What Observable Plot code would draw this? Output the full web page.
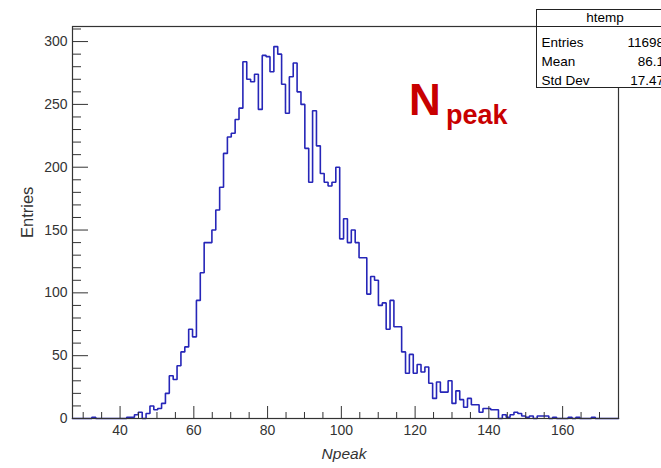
<!DOCTYPE html>
<html>
<head>
<meta charset="utf-8">
<script src="https://cdn.jsdelivr.net/npm/d3@7"></script>
<script src="https://cdn.jsdelivr.net/npm/@observablehq/plot@0.6"></script>
<style>
  html, body { margin: 0; padding: 0; background: #fff; }
  #chart svg { display: block; }
</style>
</head>
<body>
<div id="chart"></div>
<script>
// ---- data ----
const histName = "htemp";
const xTitle = "Npeak";
const yTitle = "Entries";
const binStart = 27.1;
const binWidth = 1.05;
const counts = [
  0, 0, 0, 0, 0, 1, 0, 0, 0, 0,
  0, 0, 0, 0, 1, 1, 3, 5, 0, 4,
  10, 7, 8, 12, 20, 34, 31, 42, 53, 57,
  71, 65, 94, 116, 140, 140, 150, 166, 184, 211,
  224, 227, 238, 247, 284, 270, 268, 274, 246, 289,
  288, 276, 296, 290, 266, 243, 272, 283, 260, 250,
  215, 188, 245, 217, 195, 188, 185, 188, 200, 143,
  159, 140, 150, 140, 128, 128, 99, 113, 110, 90,
  92, 71, 94, 73, 73, 53, 36, 51, 36, 43,
  37, 41, 28, 16, 29, 21, 21, 30, 12, 22,
  15, 9, 16, 11, 11, 5, 8, 8, 7, 7,
  0, 3, 1, 3, 5, 4, 2, 1, 2, 0,
  2, 2, 2, 0, 1, 0, 0, 0, 1, 0,
  1, 0, 0, 0, 1, 0, 0, 0, 0, 0,
  0
];
const yMax = 312;
const xMajorTicks = [40, 60, 80, 100, 120, 140, 160];
const xMinorTicks = [30, 35, 45, 50, 55, 65, 70, 75, 85, 90, 95, 105, 110, 115, 125, 130, 135, 145, 150, 155, 165, 170];
const yMajorTicks = [0, 50, 100, 150, 200, 250, 300];
const yMinorTicks = [10, 20, 30, 40, 60, 70, 80, 90, 110, 120, 130, 140, 160, 170, 180, 190, 210, 220, 230, 240, 260, 270, 280, 290, 310];
const statLabels = ["Entries", "Mean", "Std Dev"];
const statValues = ["11698", "86.1", "17.47"];
const annotMain = "N";
const annotSub = "peak";

// ---- build step outline from bins ----
const histPoints = counts.flatMap((c, i) => [
  {x: binStart + i * binWidth, y: c},
  {x: binStart + (i + 1) * binWidth, y: c}
]);

const axisColor = "#333";
const font = '"Liberation Sans", Arial, Helvetica, sans-serif';

const chart = Plot.plot({
  width: 661,
  height: 468,
  marginLeft: 72,
  marginRight: 43,
  marginTop: 26,
  marginBottom: 50,
  x: {domain: [binStart, binStart + counts.length * binWidth], label: null},
  y: {domain: [0, yMax], label: null},
  style: {fontFamily: font, fontSize: "14px", color: axisColor, background: "#fff", overflow: "visible"},
  marks: [
    Plot.line(histPoints, {x: "x", y: "y", stroke: "#2626b8", strokeWidth: 1.6, strokeLinejoin: "miter"}),
    Plot.frame({stroke: axisColor, strokeWidth: 1.2}),
    Plot.axisX({ticks: xMajorTicks, tickSize: -12, tickFormat: () => "", color: axisColor, label: null}),
    Plot.axisX({ticks: xMinorTicks, tickSize: -6, tickFormat: () => "", color: axisColor, label: null}),
    Plot.axisX({ticks: xMajorTicks, tickSize: 0, tickPadding: 7, color: axisColor, fontSize: 14, label: null}),
    Plot.axisY({ticks: yMajorTicks, tickSize: -16, tickFormat: () => "", color: axisColor, label: null}),
    Plot.axisY({ticks: yMinorTicks, tickSize: -9, tickFormat: () => "", color: axisColor, label: null}),
    Plot.axisY({ticks: yMajorTicks, tickSize: 0, tickPadding: 5, color: axisColor, fontSize: 14, label: null}),
    Plot.text([xTitle], {text: d => d, frameAnchor: "bottom", dx: -1.5, dy: 40, fontStyle: "italic", fontSize: 15.5, fill: "#333"}),
    Plot.text([yTitle], {text: d => d, frameAnchor: "left", rotate: -90, dx: -45, dy: 15.5, fontSize: 16.5, fill: "#333"})
  ]
});

document.getElementById("chart").appendChild(chart);

// ---- stat box (ROOT style) ----
const svg = d3.select(chart);
const box = svg.append("g").attr("font-family", font).attr("font-size", 13.5).attr("fill", "#000");
box.append("rect").attr("x", 536.5).attr("y", 9.5).attr("width", 140).attr("height", 78)
  .attr("fill", "#fff").attr("stroke", "#222").attr("stroke-width", 1);
box.append("line").attr("x1", 536.5).attr("x2", 676.5).attr("y1", 26.5).attr("y2", 26.5)
  .attr("stroke", "#222").attr("stroke-width", 1);
box.append("text").attr("x", 605).attr("y", 22).attr("text-anchor", "middle").text(histName);
const rowY = [46.5, 66, 84.5];
statLabels.forEach((l, i) => {
  box.append("text").attr("x", 541.5).attr("y", rowY[i]).attr("text-anchor", "start").text(l);
  box.append("text").attr("x", 664).attr("y", rowY[i]).attr("text-anchor", "end").text(statValues[i]);
});

// ---- red annotation ----
const ann = svg.append("text").attr("font-family", font).attr("fill", "#c80000")
  .attr("font-weight", "bold").attr("text-anchor", "start");
ann.append("tspan").attr("x", 409).attr("y", 115).attr("font-size", 44).text(annotMain);
ann.append("tspan").attr("x", 446).attr("y", 123.5).attr("font-size", 27).text(annotSub);
</script>
</body>
</html>
